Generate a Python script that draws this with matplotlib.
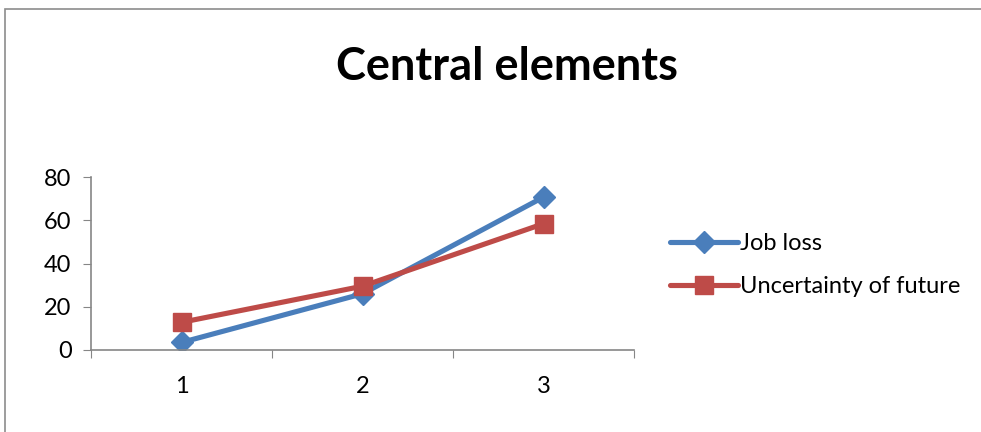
import matplotlib.pyplot as plt
from matplotlib.patches import Rectangle

# chart data
categories = [1, 2, 3]
job_loss = [3.5, 26, 70.7]
uncertainty = [12.8, 29.5, 58.4]
series_names = ["Job loss", "Uncertainty of future"]

plt.rcParams['font.family'] = ['Lato', 'DejaVu Sans']

fig = plt.figure(figsize=(9.81, 4.32), dpi=100)
ax = fig.add_axes([91 / 981, 1 - 350 / 432, (634 - 91) / 981, (350 - 177) / 432])

# outer chart frame (left and top edges visible)
fig.patches.append(Rectangle((4.5 / 981, -0.1), 1.2, 1 - 8.5 / 432 + 0.1,
                             transform=fig.transFigure, fill=False,
                             edgecolor='#8c8c8c', linewidth=1.2))

blue = '#4a7ebb'
red = '#be4b48'
ax.plot(categories, job_loss, color=blue, lw=3.7, marker='D', ms=11,
        label=series_names[0], solid_capstyle='round')
ax.plot(categories, uncertainty, color=red, lw=3.7, marker='s', ms=13,
        label=series_names[1], solid_capstyle='round')

ax.set_xlim(0.5, 3.5)
ax.set_ylim(0, 80)
ax.set_yticks([0, 20, 40, 60, 80])
ax.set_xticks([0.5, 1.5, 2.5, 3.5])
ax.set_xticklabels([])
ax.set_xticks(categories, minor=True)
ax.set_xticklabels([str(c) for c in categories], minor=True)
ax.tick_params(axis='x', which='minor', length=0, pad=19, labelsize=17)
ax.tick_params(axis='x', which='major', length=6, color='#868686', direction='out')
ax.tick_params(axis='y', length=6, color='#868686', labelsize=17, pad=8)

for side in ('top', 'right'):
    ax.spines[side].set_visible(False)
for side in ('left', 'bottom'):
    ax.spines[side].set_color('#868686')
    ax.spines[side].set_linewidth(1.2)

fig.text(507 / 981, 1 - 67 / 432, "Central elements", ha='center', va='center',
         fontsize=32.5, fontweight='bold')

ax.legend(loc='center left', bbox_to_anchor=(649 / 981, 1 - 265 / 432),
          bbox_transform=fig.transFigure, frameon=False, fontsize=17,
          handlelength=2.85, handletextpad=0.1, labelspacing=0.95)

fig.savefig('out.png', dpi=100)
